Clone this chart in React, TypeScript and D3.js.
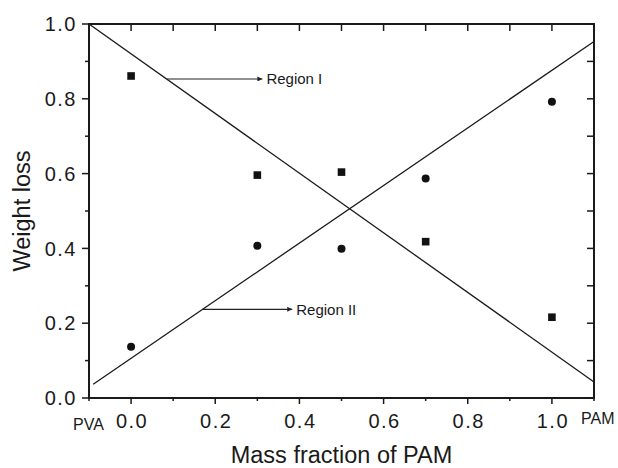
import React from "react";
import * as d3 from "d3";

const fractions = [0, 0.3, 0.5, 0.7, 1.0];
const regionISquares = [0.861, 0.596, 0.604, 0.418, 0.216];
const regionIICircles = [0.137, 0.407, 0.399, 0.587, 0.792];
const lineDown: [number, number][] = [[-0.1, 1.0], [1.1, 0.043]];
const lineUp: [number, number][] = [[-0.09, 0.037], [1.1, 0.953]];
const xTickLabels = ["0.0", "0.2", "0.4", "0.6", "0.8", "1.0"];
const yTickLabels = ["0.0", "0.2", "0.4", "0.6", "0.8", "1.0"];
const annotations = [
  { label: "Region I", y: 0.853, tipX: 0.312, line: lineDown },
  { label: "Region II", y: 0.237, tipX: 0.383, line: lineUp },
];

const W = 618, H = 468;
const L = 89, R = 594, T = 24, B = 398;
const FONT = "'Liberation Sans', Arial, Helvetica, sans-serif";

export default function App() {
  const x = d3.scaleLinear().domain([-0.1, 1.1]).range([L, R]);
  const y = d3.scaleLinear().domain([0, 1]).range([B, T]);
  const line = d3.line<[number, number]>().x(d => x(d[0])).y(d => y(d[1]));
  const tenths = d3.range(0, 11).map(i => i / 10);
  const xTenths = d3.range(-1, 12).map(i => i / 10);

  const xOnLine = (ln: [number, number][], yv: number) => {
    const [[x0, y0], [x1, y1]] = ln;
    return x0 + ((yv - y0) * (x1 - x0)) / (y1 - y0);
  };

  return (
    <svg width={W} height={H} style={{ position: "absolute", left: 0, top: 0, background: "#fff" }} fontFamily={FONT}>
      <defs>
        <marker id="arr" viewBox="0 0 10 10" refX="10" refY="5" markerWidth="6" markerHeight="5" orient="auto" markerUnits="userSpaceOnUse">
          <path d="M0,0 L10,5 L0,10 z" fill="#222" />
        </marker>
      </defs>
      {/* frame */}
      <rect x={L} y={T} width={R - L} height={B - T} fill="none" stroke="#1a1a1a" strokeWidth={2} />
      {/* left ticks (outward) */}
      {tenths.map((v, i) => (
        <line key={"l" + i} x1={L} x2={L - (i % 2 === 0 ? 7 : 4)} y1={y(v)} y2={y(v)} stroke="#1a1a1a" strokeWidth={1.5} />
      ))}
      {/* right ticks (inward) */}
      {tenths.map((v, i) => (
        <line key={"r" + i} x1={R} x2={R - 7} y1={y(v)} y2={y(v)} stroke="#1a1a1a" strokeWidth={1.5} />
      ))}
      {/* bottom ticks (outward) */}
      {xTenths.map((v, i) => (
        <line key={"b" + i} x1={x(v)} x2={x(v)} y1={B} y2={B + (Math.round(v * 10) % 2 === 0 ? 6 : 3)} stroke="#1a1a1a" strokeWidth={1.5} />
      ))}
      {/* top ticks (inward) */}
      {xTenths.map((v, i) => (
        <line key={"t" + i} x1={x(v)} x2={x(v)} y1={T} y2={T + 7} stroke="#1a1a1a" strokeWidth={1.5} />
      ))}
      {/* y tick labels */}
      {yTickLabels.map((t, i) => (
        <text key={"yl" + i} x={L - 12} y={y(+t)} dy="0.36em" textAnchor="end" fontSize={20} fill="#1a1a1a" letterSpacing={1.5}>{t}</text>
      ))}
      {/* x tick labels */}
      {xTickLabels.map((t, i) => (
        <text key={"xl" + i} x={x(+t) + 1} y={428} textAnchor="middle" fontSize={20} fill="#1a1a1a" letterSpacing={1.5}>{t}</text>
      ))}
      <text x={73} y={430} fontSize={16} fill="#1a1a1a">PVA</text>
      <text x={581} y={424} fontSize={16} fill="#1a1a1a">PAM</text>
      {/* axis titles */}
      <text x={(L + R) / 2} y={463} textAnchor="middle" fontSize={23.5} fill="#1a1a1a">Mass fraction of PAM</text>
      <text transform={`translate(30,${(T + B) / 2}) rotate(-90)`} textAnchor="middle" fontSize={23.5} fill="#1a1a1a">Weight loss</text>
      {/* lines */}
      <path d={line(lineDown) || ""} fill="none" stroke="#1a1a1a" strokeWidth={1.3} />
      <path d={line(lineUp) || ""} fill="none" stroke="#1a1a1a" strokeWidth={1.3} />
      {/* annotations */}
      {annotations.map((a, i) => (
        <g key={"a" + i}>
          <line x1={x(xOnLine(a.line, a.y))} x2={x(a.tipX)} y1={y(a.y)} y2={y(a.y)} stroke="#222" strokeWidth={1.2} markerEnd="url(#arr)" />
          <text x={x(a.tipX) + 4} y={y(a.y)} dy="0.36em" fontSize={15} fill="#1a1a1a">{a.label}</text>
        </g>
      ))}
      {/* markers */}
      {fractions.map((f, i) => (
        <rect key={"s" + i} x={x(f) - 3.8} y={y(regionISquares[i]) - 3.8} width={7.6} height={7.6} fill="#111" />
      ))}
      {fractions.map((f, i) => (
        <circle key={"c" + i} cx={x(f)} cy={y(regionIICircles[i])} r={4} fill="#111" />
      ))}
    </svg>
  );
}
